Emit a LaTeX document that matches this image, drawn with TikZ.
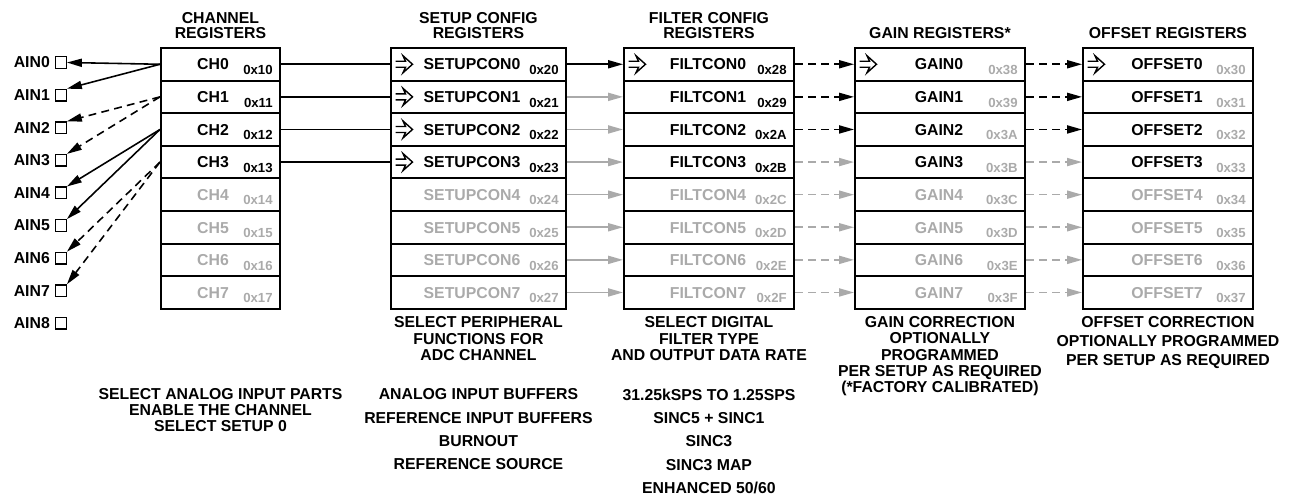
\documentclass[tikz,border=0pt]{standalone}
\usepackage{fontspec}
\setmainfont{Liberation Sans}
\usetikzlibrary{arrows.meta,positioning}

\definecolor{regoff}{RGB}{170,170,170}
\newcommand\hexdig[1]{\ifcase\numexpr#1\relax0\or1\or2\or3\or4\or5\or6\or7\or8\or9\or A\or B\or C\or D\or E\or F\fi}

\tikzset{
  regrow/.style={draw,line width=1.1pt,minimum height=0.652cm,inner sep=0pt,anchor=north west},
  regname/.style={font=\fontsize{9}{10}\selectfont\bfseries,inner sep=0pt,anchor=base},
  regaddr/.style={font=\fontsize{7.5}{8}\selectfont\bfseries,inner sep=0pt,anchor=base east},
  hdr/.style={font=\fontsize{9}{8.2}\selectfont\bfseries,align=center,inner sep=0pt},
  note/.style={font=\fontsize{9}{9.35}\selectfont\bfseries,align=center,inner sep=0pt},
  wire/.style={line width=0.9pt},
  dashwire/.style={wire,dash pattern=on 4.5pt off 3pt},
  headarr/.style={-{Triangle[length=8.5pt,width=4.6pt]}},
  ainbox/.style={draw,line width=0.75pt,minimum width=0.21cm,minimum height=0.23cm,inner sep=0pt},
  ainlab/.style={font=\fontsize{9}{10}\selectfont\bfseries,inner sep=0pt},
  hollowarr/.pic={\draw[line width=0.8pt,line join=miter] (0,3)--(10,3)--(7.5,8.5)--(17,0)--(7.5,-8.5)--(10,-3)--(0,-3);}
}

\begin{document}
\begin{tikzpicture}[x=0.02cm,y=-0.02cm]
\useasboundingbox (0,0) rectangle (1289,497);

% register blocks, 8 rows each
\foreach \blk/\lx/\w/\nm/\sh/\pre/\off/\ablk in {ch/160/119/CH/-6.5/1/0/4, su/390/175/SETUPCON/-5.5/2/0/4, fc/623/170/FILTCON/0/2/8/4, gn/854/170/GAIN/0/3/8/0, of/1082/170/OFFSET/0/3/0/0}{
  \foreach \i in {0,...,7}{
    \ifnum\i<4 \def\namecol{black}\else\def\namecol{regoff}\fi
    \ifnum\i<\ablk \def\addrcol{black}\else\def\addrcol{regoff}\fi
    \node[regrow,minimum width=\w*0.02cm] (\blk\i) at (\lx,{47+32.6*\i}) {};
    \node[regname,text=\namecol] at ({\lx+\w/2+\sh},{70+32.6*\i}) {\nm\i};
    \node[regaddr,text=\addrcol] at ({\lx+\w-6},{74.5+32.6*\i}) {0x\pre\hexdig{\i+\off}};
  }
}

% open arrows inside the active rows
\foreach \r in {su0,su1,su2,su3,fc0,gn0,of0}
  \pic at ([xshift=0.11cm]\r.west) {hollowarr};

% block titles
\node[hdr,above=4.8pt of ch0] (chhdr) {CHANNEL\\REGISTERS};
\node[hdr,above=4.8pt of su0] (suhdr) {SETUP CONFIG\\REGISTERS};
\node[hdr,above=4.8pt of fc0] (fchdr) {FILTER CONFIG\\REGISTERS};
\node[hdr,above=4.8pt of gn0] (gnhdr) {GAIN REGISTERS*};
\node[hdr,above=4.8pt of of0] (ofhdr) {OFFSET REGISTERS};

% analog inputs
\foreach \i in {0,...,8}{
  \node[ainbox] (ain\i) at (61,{62.5+32.6*\i}) {};
  \node[ainlab,left=2.8pt of ain\i] {AIN\i};
}
\draw[wire,headarr] (ch0.west) -- (ain0.east);
\draw[wire,headarr] (ch0.west) -- (ain1.north east);
\draw[dashwire,headarr] (ch1.west) -- (ain2.north east);
\draw[dashwire,headarr] (ch1.west) -- (ain3.north east);
\draw[wire,headarr] (ch2.west) -- (ain4.north east);
\draw[wire,headarr] (ch2.west) -- (ain5.north east);
\draw[dashwire,headarr] (ch3.west) -- (ain6.north east);
\draw[dashwire,headarr] (ch3.west) -- (ain7.north east);

% links between the blocks
\foreach \i in {0,...,3}
  \draw[wire] (ch\i.east) -- (su\i.west);
\draw[wire,headarr] (su0.east) -- (fc0.west);
\foreach \i in {1,...,7}
  \draw[wire,headarr,regoff] (su\i.east) -- (fc\i.west);
\foreach \i in {0,...,7}{
  \ifnum\i<3 \def\wirecol{black}\else\def\wirecol{regoff}\fi
  \draw[dashwire,headarr,\wirecol] (fc\i.east) -- (gn\i.west);
  \draw[dashwire,headarr,\wirecol] (gn\i.east) -- (of\i.west);
}

% notes under the blocks
\node[note,below=3.7pt of su7] (sunote) {SELECT PERIPHERAL\\FUNCTIONS FOR\\ADC CHANNEL};
\node[note,below=3.7pt of fc7] (fcnote) {SELECT DIGITAL\\FILTER TYPE\\AND OUTPUT DATA RATE};
\node[note,below=3.7pt of gn7,font=\fontsize{9}{9.25}\selectfont\bfseries] (gnnote) {GAIN CORRECTION\\OPTIONALLY\\PROGRAMMED\\PER SETUP AS REQUIRED\\(*FACTORY CALIBRATED)};
\node[note,below=3.7pt of of7,font=\fontsize{9}{10.8}\selectfont\bfseries] (ofnote) {OFFSET CORRECTION\\OPTIONALLY PROGRAMMED\\PER SETUP AS REQUIRED};
\node[note,below=44.6pt of ch7,font=\fontsize{9}{9.1}\selectfont\bfseries] (chnote) {SELECT ANALOG INPUT PARTS\\ENABLE THE CHANNEL\\SELECT SETUP 0};
\node[note,below=15.6pt of sunote,font=\fontsize{9}{13.3}\selectfont\bfseries] (sulist) {ANALOG INPUT BUFFERS\\REFERENCE INPUT BUFFERS\\BURNOUT\\REFERENCE SOURCE};
\node[note,below=15.6pt of fcnote,font=\fontsize{9}{13.3}\selectfont\bfseries] (fclist) {31.25kSPS TO 1.25SPS\\SINC5 + SINC1\\SINC3\\SINC3 MAP\\ENHANCED 50/60};
\end{tikzpicture}
\end{document}
